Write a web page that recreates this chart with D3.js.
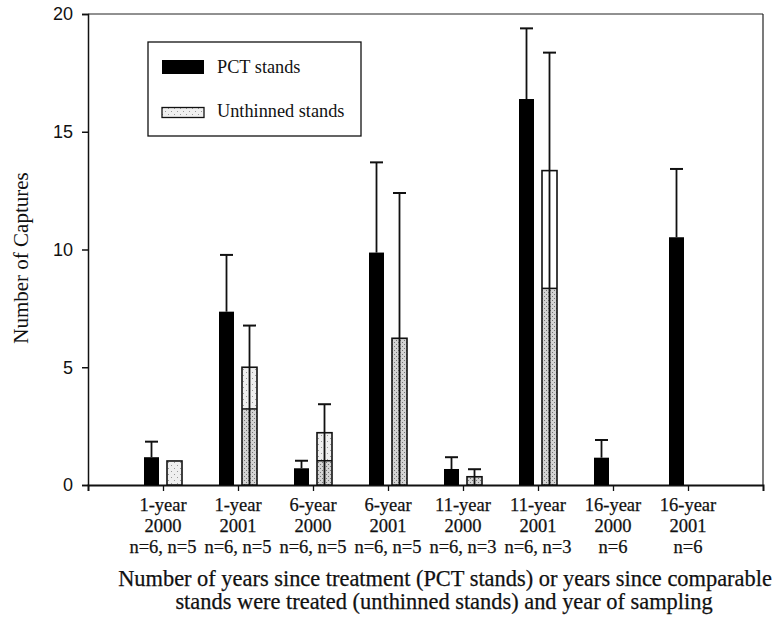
<!DOCTYPE html>
<html>
<head>
<meta charset="utf-8">
<script src="https://cdn.jsdelivr.net/npm/d3@7"></script>
<style>
  html, body { margin: 0; padding: 0; background: #fff; }
  svg { display: block; }
</style>
</head>
<body>
<svg id="chart" width="777" height="623"></svg>
<script>
// Group labels (three lines under each tick)
const ageLabels  = ["1-year", "1-year", "6-year", "6-year", "11-year", "11-year", "16-year", "16-year"];
const yearLabels = ["2000", "2001", "2000", "2001", "2000", "2001", "2000", "2001"];
const nLabels    = ["n=6, n=5", "n=6, n=5", "n=6, n=5", "n=6, n=5", "n=6, n=3", "n=6, n=3", "n=6", "n=6"];

// Mean captures and standard errors
const pctMean  = [1.18, 7.36, 0.71, 9.87, 0.68, 16.39, 1.16, 10.52];
const pctErr   = [0.66, 2.41, 0.32, 3.83, 0.50, 3.00, 0.75, 2.90];
const unthMean = [1.02, 5.00, 2.22, 6.23, 0.35, 13.35, null, null];
const unthErr  = [0, 1.77, 1.21, 6.17, 0.32, 5.01, null, null];
// Level where the shading inside the unthinned bars changes
const unthSplit = [null, 3.23, 1.03, null, null, 8.35, null, null];

const yTicks = [0, 5, 10, 15, 20];
const legendItems = ["PCT stands", "Unthinned stands"];

const svg = d3.select("#chart");
const serif = "'Liberation Serif', 'Times New Roman', serif";
const sans = "'Liberation Sans', Arial, sans-serif";
const ink = "#111";

const plot = { left: 88, right: 763, top: 14, bottom: 485 };

const x = d3.scalePoint().domain(d3.range(ageLabels.length))
  .range([plot.left, plot.right]).padding(1);
const y = d3.scaleLinear().domain([0, 20]).range([plot.bottom, plot.top]);

const barW = 15, gap = 4;

// stipple fills
const defs = svg.append("defs");
function stipple(id, bg, dot, step) {
  const p = defs.append("pattern").attr("id", id).attr("patternUnits", "userSpaceOnUse")
    .attr("width", step * 2).attr("height", step * 2);
  p.append("rect").attr("width", step * 2).attr("height", step * 2).attr("fill", bg);
  p.append("rect").attr("x", 0).attr("y", 0).attr("width", 1).attr("height", 1).attr("fill", dot);
  p.append("rect").attr("x", step).attr("y", step).attr("width", 1).attr("height", 1).attr("fill", dot);
}
stipple("dense", "#d4d4d4", "#777", 2);
stipple("light", "#efefef", "#999", 3);

// frame
svg.append("line").attr("x1", plot.left).attr("x2", plot.right).attr("y1", plot.top).attr("y2", plot.top)
  .attr("stroke", "#222").attr("stroke-width", 1);
svg.append("line").attr("x1", plot.right).attr("x2", plot.right).attr("y1", plot.top).attr("y2", plot.bottom)
  .attr("stroke", "#222").attr("stroke-width", 1.2);

// y axis
const yAxis = svg.append("g").attr("transform", `translate(${plot.left},0)`)
  .call(d3.axisLeft(y).tickValues(yTicks).tickSize(6).tickPadding(9));
yAxis.select(".domain").attr("stroke", ink).attr("stroke-width", 1.5);
yAxis.selectAll(".tick line").attr("stroke", ink).attr("stroke-width", 1.5);
yAxis.selectAll("text").attr("font-family", sans).attr("font-size", 18).attr("fill", ink);

// x axis
const xAxis = svg.append("g").attr("transform", `translate(0,${plot.bottom})`)
  .call(d3.axisBottom(x).tickSize(6).tickFormat(""));
xAxis.select(".domain").attr("stroke", ink).attr("stroke-width", 2);
xAxis.selectAll(".tick line").attr("stroke", ink).attr("stroke-width", 1.3);

// x tick labels (three lines)
const lbl = svg.append("g").attr("font-family", serif).attr("font-size", 18.5)
  .attr("fill", ink).attr("stroke", ink).attr("stroke-width", 0.25).attr("text-anchor", "middle");
ageLabels.forEach((a, i) => {
  const t = lbl.append("text").attr("x", x(i));
  t.append("tspan").attr("x", x(i)).attr("y", 511).text(a);
  t.append("tspan").attr("x", x(i)).attr("y", 532).text(yearLabels[i]);
  t.append("tspan").attr("x", x(i)).attr("y", 553).text(nLabels[i]);
});

// error bars
function errBar(cx, mean, err, fromBase) {
  const y0 = fromBase ? y(0) : y(mean);
  const y1 = y(mean + err);
  svg.append("line").attr("x1", cx).attr("x2", cx).attr("y1", y0).attr("y2", y1)
    .attr("stroke", ink).attr("stroke-width", 1.8);
  svg.append("line").attr("x1", cx - 6.5).attr("x2", cx + 6.5).attr("y1", y1).attr("y2", y1)
    .attr("stroke", ink).attr("stroke-width", 2);
}

// PCT bars
pctMean.forEach((v, i) => {
  const x0 = x(i) - gap - barW;
  errBar(x0 + barW / 2, v, pctErr[i], false);
  svg.append("rect").attr("x", x0).attr("y", y(v)).attr("width", barW).attr("height", y(0) - y(v))
    .attr("fill", "#000");
});

// Unthinned bars
unthMean.forEach((v, i) => {
  if (v == null) return;
  const x0 = x(i) + gap;
  const cx = x0 + barW / 2;
  const s = unthSplit[i];
  if (s != null) {
    svg.append("rect").attr("x", x0).attr("y", y(s)).attr("width", barW).attr("height", y(0) - y(s))
      .attr("fill", "url(#dense)");
    svg.append("rect").attr("x", x0).attr("y", y(v)).attr("width", barW).attr("height", y(s) - y(v))
      .attr("fill", i === 5 ? "#fff" : "url(#light)");
    svg.append("line").attr("x1", x0).attr("x2", x0 + barW).attr("y1", y(s)).attr("y2", y(s))
      .attr("stroke", ink).attr("stroke-width", 1.5);
  } else {
    svg.append("rect").attr("x", x0).attr("y", y(v)).attr("width", barW).attr("height", y(0) - y(v))
      .attr("fill", i === 0 ? "url(#light)" : "url(#dense)");
  }
  if (unthErr[i] > 0) errBar(cx, v, unthErr[i], true);
  svg.append("rect").attr("x", x0).attr("y", y(v)).attr("width", barW).attr("height", y(0) - y(v))
    .attr("fill", "none").attr("stroke", ink).attr("stroke-width", 1.6);
});

// legend
const lg = svg.append("g");
lg.append("rect").attr("x", 148).attr("y", 42).attr("width", 213).attr("height", 94)
  .attr("fill", "#fff").attr("stroke", ink).attr("stroke-width", 1.3);
lg.append("rect").attr("x", 162).attr("y", 60).attr("width", 42).attr("height", 14).attr("fill", "#000");
lg.append("rect").attr("x", 162).attr("y", 107.5).attr("width", 42).attr("height", 10)
  .attr("fill", "url(#light)").attr("stroke", ink).attr("stroke-width", 1.3);
legendItems.forEach((t, i) => {
  lg.append("text").attr("x", 217).attr("y", [73, 117][i])
    .attr("font-family", serif).attr("font-size", 18.3).attr("fill", ink).text(t);
});

// axis titles
svg.append("text").attr("transform", "translate(28,258) rotate(-90)")
  .attr("text-anchor", "middle").attr("font-family", serif).attr("font-size", 21).attr("fill", ink)
  .text("Number of Captures");
const xt = svg.append("text").attr("text-anchor", "middle").attr("font-family", serif)
  .attr("font-size", 22.4).attr("fill", ink).attr("stroke", ink).attr("stroke-width", 0.25);
xt.append("tspan").attr("x", 445).attr("y", 586)
  .text("Number of years since treatment (PCT stands) or years since comparable");
xt.append("tspan").attr("x", 444).attr("y", 609)
  .text("stands were treated (unthinned stands) and year of sampling");
</script>
</body>
</html>
